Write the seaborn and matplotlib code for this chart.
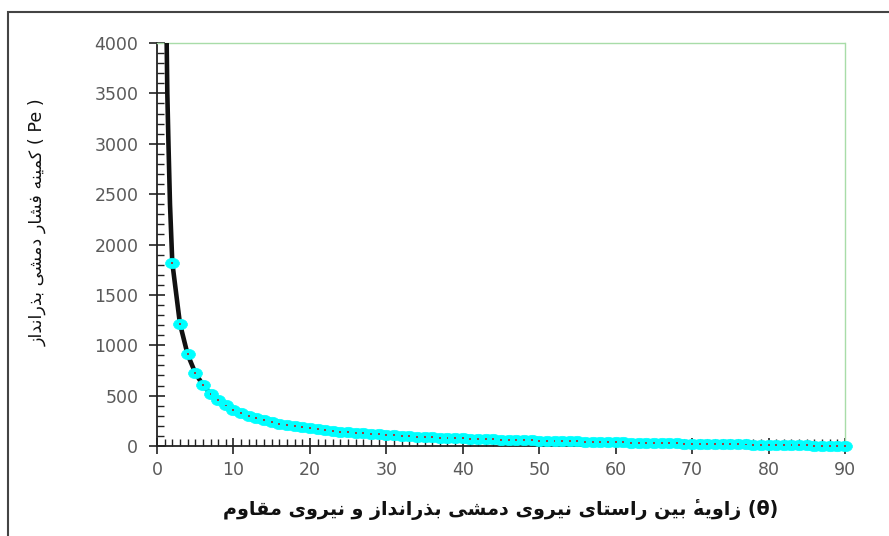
import matplotlib
matplotlib.use("Agg")
import matplotlib.pyplot as plt
from matplotlib.ticker import MultipleLocator
from matplotlib.patches import Rectangle
from matplotlib.path import Path
import seaborn as sns
import pandas as pd

# Angle between the thrust force of the seeder and the resisting force (deg)
theta_deg = list(range(2, 91))
# Minimum thrust pressure of the seeder, one value per degree
pe_values = [
    1821, 1214, 910, 727, 605, 518, 453, 402, 361, 327,
    299, 275, 255, 237, 222, 208, 196, 185, 175, 166,
    157, 150, 143, 136, 130, 125, 120, 115, 110, 106,
    102, 98, 94, 91, 88, 84, 81, 79, 76, 73,
    71, 68, 66, 64, 61, 59, 57, 55, 53, 52,
    50, 48, 46, 45, 43, 41, 40, 38, 37, 35,
    34, 32, 31, 30, 28, 27, 26, 24, 23, 22,
    21, 19, 18, 17, 16, 15, 14, 12, 11, 10,
    9, 8, 7, 6, 4, 3, 2, 1, 0,
]
# Steep start of the continuous curve below 2 degrees
curve_head_theta = [1.25, 1.35, 1.5, 1.7]
curve_head_pe = [4100, 3500, 3000, 2400]

x_ticks = [0, 10, 20, 30, 40, 50, 60, 70, 80, 90]
y_ticks = [0, 500, 1000, 1500, 2000, 2500, 3000, 3500, 4000]

x_label_words = "زاویهٔ بین راستای نیروی دمشی بذرانداز و نیروی مقاوم"
x_label_symbol = "(θ)"
y_label_words = "کمینه فشار دمشی بذرانداز"
y_label_symbol = "( Pe )"

# Arabic presentation forms: isolated, final, initial, medial
FORMS = {
    "\u0627": ("\uFE8D", "\uFE8E", None, None),
    "\u0622": ("\uFE81", "\uFE82", None, None),
    "\u0628": ("\uFE8F", "\uFE90", "\uFE91", "\uFE92"),
    "\u067E": ("\uFB56", "\uFB57", "\uFB58", "\uFB59"),
    "\u062A": ("\uFE95", "\uFE96", "\uFE97", "\uFE98"),
    "\u062F": ("\uFEA9", "\uFEAA", None, None),
    "\u0630": ("\uFEAB", "\uFEAC", None, None),
    "\u0631": ("\uFEAD", "\uFEAE", None, None),
    "\u0632": ("\uFEAF", "\uFEB0", None, None),
    "\u0633": ("\uFEB1", "\uFEB2", "\uFEB3", "\uFEB4"),
    "\u0634": ("\uFEB5", "\uFEB6", "\uFEB7", "\uFEB8"),
    "\u0641": ("\uFED1", "\uFED2", "\uFED3", "\uFED4"),
    "\u0642": ("\uFED5", "\uFED6", "\uFED7", "\uFED8"),
    "\u06A9": ("\uFB8E", "\uFB8F", "\uFB90", "\uFB91"),
    "\u0645": ("\uFEE1", "\uFEE2", "\uFEE3", "\uFEE4"),
    "\u0646": ("\uFEE5", "\uFEE6", "\uFEE7", "\uFEE8"),
    "\u0647": ("\uFEE9", "\uFEEA", "\uFEEB", "\uFEEC"),
    "\u0648": ("\uFEED", "\uFEEE", None, None),
    "\u06CC": ("\uFBFC", "\uFBFD", "\uFBFE", "\uFBFF"),
    "\u06C0": ("\uFBA4", "\uFBA5", None, None),
}


def shape_word(word):
    out = []
    for i, ch in enumerate(word):
        if ch not in FORMS:
            out.append(ch)
            continue
        prev = word[i - 1] if i > 0 else None
        nxt = word[i + 1] if i + 1 < len(word) else None
        joins_prev = prev in FORMS and FORMS[prev][2] is not None
        joins_next = FORMS[ch][2] is not None and nxt in FORMS
        iso, fin, ini, med = FORMS[ch]
        if joins_prev and joins_next:
            out.append(med)
        elif joins_prev:
            out.append(fin)
        elif joins_next:
            out.append(ini)
        else:
            out.append(iso)
    return "".join(out)


def visual_rtl(text):
    shaped = " ".join(shape_word(w) for w in text.split(" "))
    return shaped[::-1]


sns.set_theme(style="white")
plt.rcParams["font.family"] = ["DejaVu Sans"]

fig = plt.figure(figsize=(8.89, 5.36), dpi=100)
ax = fig.add_axes([157 / 889, 90 / 536, 688 / 889, 403 / 536])

curve = pd.DataFrame({
    "theta": curve_head_theta + theta_deg,
    "pe": curve_head_pe + pe_values,
})
points = pd.DataFrame({"theta": theta_deg, "pe": pe_values})

# slightly flattened round marker
ellipse = Path.unit_circle().transformed(
    matplotlib.transforms.Affine2D().scale(1.0, 0.75))

sns.lineplot(data=curve, x="theta", y="pe", ax=ax, color="#111111",
             linewidth=3.3, sort=False, estimator=None, zorder=3)
sns.scatterplot(data=points, x="theta", y="pe", ax=ax, color="#00ffff",
                marker=ellipse, s=100, edgecolor="#00ffff", linewidth=0.5,
                zorder=4, clip_on=False)
sns.scatterplot(data=points, x="theta", y="pe", ax=ax, color="#a04040",
                marker="s", s=2, edgecolor="none", linewidth=0,
                zorder=5, clip_on=False)

ax.set_xlim(0, 90)
ax.set_ylim(0, 4000)
ax.set_xticks(x_ticks)
ax.set_yticks(y_ticks)
ax.set_xticklabels([str(v) for v in x_ticks])
ax.set_yticklabels([str(v) for v in y_ticks])
ax.xaxis.set_minor_locator(MultipleLocator(1))
ax.yaxis.set_minor_locator(MultipleLocator(100))
ax.tick_params(axis="both", which="major", direction="inout", length=11,
               width=1.2, color="#222222", labelsize=12.5, labelcolor="#5a5a5a",
               bottom=True, left=True)
ax.tick_params(axis="x", which="major", pad=5)
ax.tick_params(axis="y", which="major", pad=8)
ax.tick_params(axis="both", which="minor", direction="in", length=5,
               width=1.0, color="#222222", bottom=True, left=True)

for side in ("left", "bottom"):
    ax.spines[side].set_color("#222222")
    ax.spines[side].set_linewidth(1.3)
for side in ("top", "right"):
    ax.spines[side].set_color("#a8dca8")
    ax.spines[side].set_linewidth(1.0)
    ax.spines[side].set_linestyle((0, (1, 1)))

ax.set_xlabel("")
ax.set_ylabel("")

fig.text(501 / 889, 1 - 510 / 536,
         visual_rtl(x_label_words) + " " + x_label_symbol,
         ha="center", va="center", fontsize=13.8, fontweight="bold",
         family=["DejaVu Sans"], color="#111111")
fig.text(38 / 889, 1 - 222 / 536,
         visual_rtl(y_label_words) + " " + y_label_symbol,
         ha="center", va="center", rotation=90, fontsize=12.6,
         family=["DejaVu Sans"], color="#111111")

# outer frame of the figure
fig.patches.append(Rectangle((7.5 / 889, -0.1), 1.2, 1 - 11.5 / 536 + 0.1,
                             transform=fig.transFigure, fill=False,
                             edgecolor="#444444", linewidth=1.5))

fig.savefig("out.png", dpi=100)
